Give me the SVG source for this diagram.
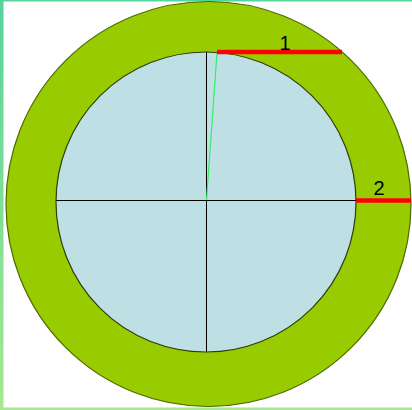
<svg xmlns="http://www.w3.org/2000/svg" width="412" height="410" viewBox="0 0 412 410">
<defs>
<linearGradient id="edge" x1="0" y1="0" x2="0" y2="1">
<stop offset="0" stop-color="#55d49c"/>
<stop offset="1" stop-color="#a6e88f"/>
</linearGradient>
<style>
.ring{fill:#99cc00;stroke:#4d6b00;stroke-width:1.2}
.disc{fill:#bee0e4;stroke:#2e3d10;stroke-width:1.2}
.axis{stroke:#000;stroke-width:1}
.red{stroke:#ff0000;stroke-width:4.5}
.lbl{font-family:"Liberation Sans",Arial,sans-serif;font-size:20px;fill:#000;text-anchor:middle}
</style>
</defs>
<rect width="412" height="410" fill="#ffffff"/>
<rect x="0" y="0" width="412" height="1.5" fill="#55d49c"/>
<rect x="0" y="0" width="3.5" height="410" fill="url(#edge)"/>
<rect x="0" y="407.5" width="412" height="2.5" fill="#a6e88f"/>
<g id="outer-ring"><circle class="ring" cx="208.5" cy="204" r="202.5"/></g>
<g id="inner-disc"><circle class="disc" cx="206" cy="202" r="150"/></g>
<g id="connectors">
<line class="axis" x1="56" y1="200.5" x2="356" y2="200.5"/>
<line class="axis" x1="206.5" y1="52" x2="206.5" y2="352"/>
<line x1="206.5" y1="200" x2="217" y2="53" stroke="#33ee66" stroke-width="1.2"/>
<line class="red" x1="217" y1="52" x2="342" y2="52"/>
<line class="red" x1="356" y1="200.5" x2="411" y2="200.5"/>
</g>
<g id="label-1"><text class="lbl" x="285" y="50">1</text></g>
<g id="label-2"><text class="lbl" x="379" y="195">2</text></g>
</svg>
